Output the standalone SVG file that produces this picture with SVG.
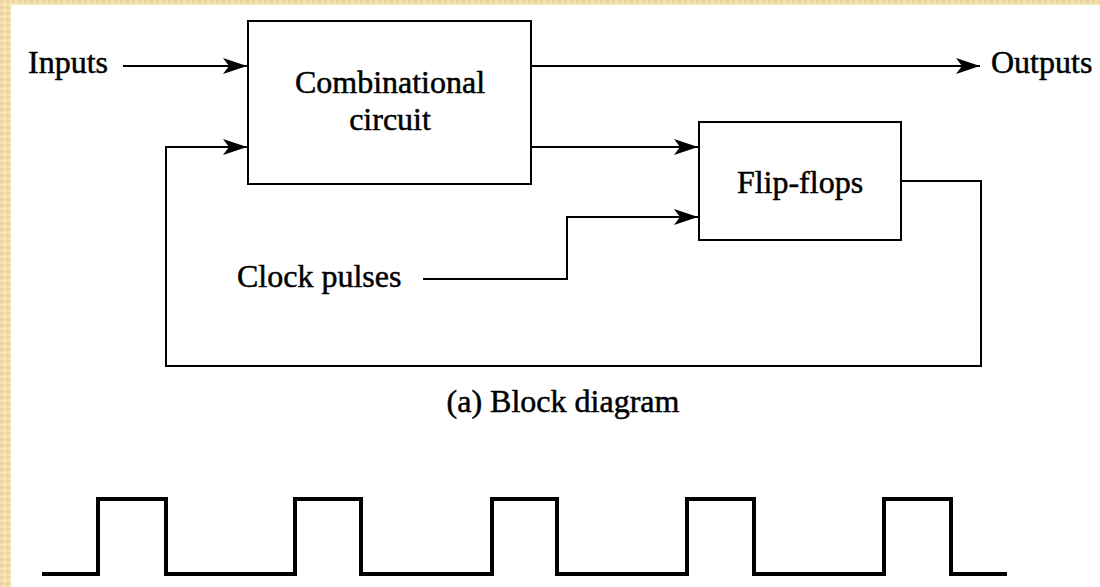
<svg xmlns="http://www.w3.org/2000/svg" width="1100" height="587" viewBox="0 0 1100 587">
  <defs>
    <pattern id="tex" width="6" height="6" patternUnits="userSpaceOnUse">
      <rect width="6" height="6" fill="#f1dfae"/>
      <rect x="0" y="0" width="3" height="3" fill="#ead59c"/>
      <rect x="3" y="3" width="3" height="3" fill="#f6e7bf"/>
    </pattern>
    <marker id="arr" viewBox="-25 -9 26 18" refX="0" refY="0" markerWidth="26" markerHeight="18" markerUnits="userSpaceOnUse" orient="auto">
      <path d="M0,0 L-24,-8 L-18,0 L-24,8 Z" fill="#000"/>
    </marker>
    <style>
      .box { fill: #fff; stroke: #000; stroke-width: 2; }
      .wire { fill: none; stroke: #000; stroke-width: 2; }
      .lbl { font-family: "Liberation Serif", "Times New Roman", serif; font-size: 32px; fill: #000; stroke: #000; stroke-width: 0.5px; }
      .mid { text-anchor: middle; }
      .wave { fill: none; stroke: #000; stroke-width: 4; stroke-linejoin: miter; }
    </style>
  </defs>
  <rect x="0" y="0" width="1100" height="587" fill="url(#tex)"/>
  <rect x="11" y="5" width="1089" height="582" fill="#fff"/>

  <g id="inputs-label"><text class="lbl" x="28" y="73">Inputs</text></g>
  <g id="outputs-label"><text class="lbl" x="991" y="73">Outputs</text></g>
  <g id="clock-label"><text class="lbl" x="237" y="287">Clock pulses</text></g>

  <g id="combinational">
    <rect class="box" x="248" y="21" width="283" height="163"/>
    <text class="lbl mid" x="390" y="93">Combinational</text>
    <text class="lbl mid" x="390" y="130">circuit</text>
  </g>

  <g id="flipflops">
    <rect class="box" x="699" y="122" width="202" height="118"/>
    <text class="lbl mid" x="800" y="193">Flip-flops</text>
  </g>

  <g id="connectors">
    <path class="wire" d="M123,66 H247" marker-end="url(#arr)"/>
    <path class="wire" d="M531,66 H980" marker-end="url(#arr)"/>
    <path class="wire" d="M531,147 H698" marker-end="url(#arr)"/>
    <path class="wire" d="M423,279 H567 V217 H698" marker-end="url(#arr)"/>
    <path class="wire" d="M901,181 H981 V366 H166 V147 H247" marker-end="url(#arr)"/>
  </g>

  <g id="caption"><text class="lbl mid" x="563" y="412">(a) Block diagram</text></g>

  <g id="clock-wave">
    <path class="wave" d="M42,574 H98 V499 H166 V574 H295 V499 H361 V574 H492 V499 H557 V574 H687 V499 H754 V574 H884 V499 H951 V574 H1007"/>
  </g>
</svg>
